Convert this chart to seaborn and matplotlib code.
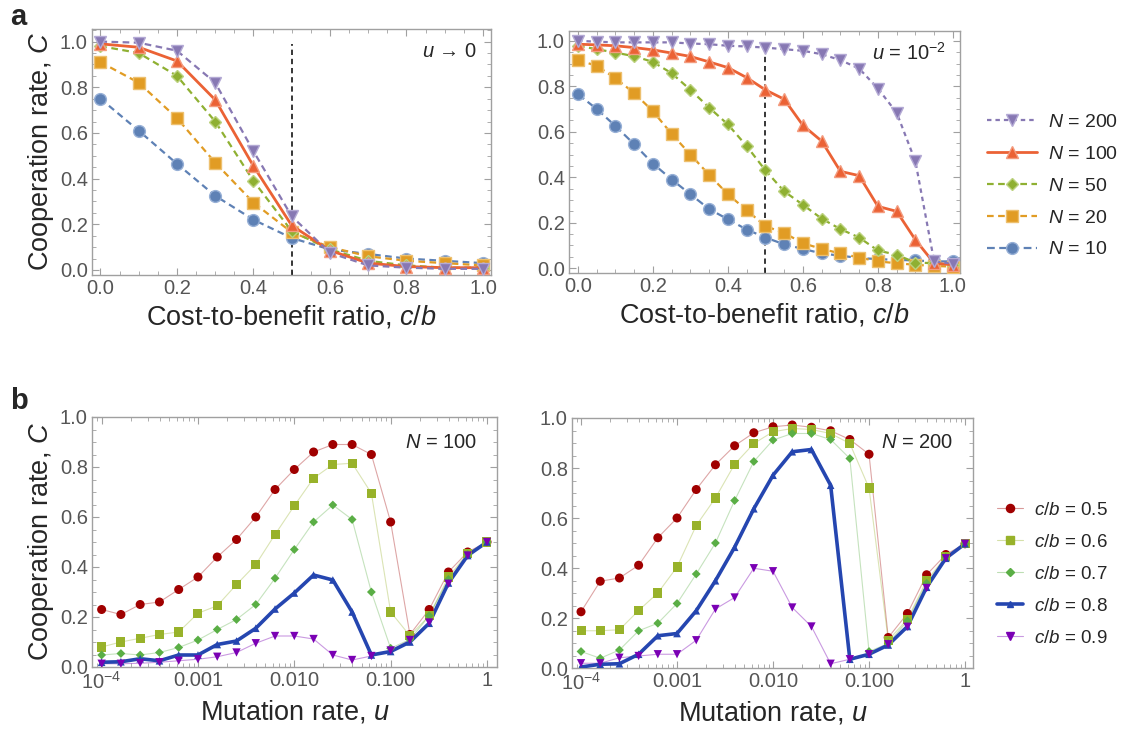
import numpy as np
import pandas as pd
import matplotlib
matplotlib.use("Agg")
import matplotlib.pyplot as plt
from matplotlib.ticker import MultipleLocator, FixedLocator, NullFormatter, LogLocator
from matplotlib.lines import Line2D
from matplotlib.colors import to_rgba
import seaborn as sns

# ---------------- data ----------------
cb_coarse = [0.0, 0.1, 0.2, 0.3, 0.4, 0.5, 0.6, 0.7, 0.8, 0.9, 1.0]
cb_fine = [0.0, 0.05, 0.1, 0.15, 0.2, 0.25, 0.3, 0.35, 0.4, 0.45, 0.5,
           0.55, 0.6, 0.65, 0.7, 0.75, 0.8, 0.85, 0.9, 0.95, 1.0]

# panel a, u -> 0
a0_N10 = [0.75, 0.61, 0.465, 0.325, 0.22, 0.14, 0.09, 0.07, 0.05, 0.04, 0.03]
a0_N20 = [0.91, 0.82, 0.665, 0.47, 0.295, 0.165, 0.10, 0.06, 0.04, 0.03, 0.02]
a0_N50 = [0.98, 0.95, 0.85, 0.65, 0.39, 0.17, 0.09, 0.04, 0.02, 0.01, 0.01]
a0_N100 = [0.99, 0.975, 0.915, 0.745, 0.455, 0.195, 0.085, 0.03, 0.015, 0.01, 0.01]
a0_N200 = [1.0, 0.995, 0.96, 0.82, 0.52, 0.235, 0.075, 0.02, 0.01, 0.005, 0.005]

# panel a, u = 1e-2
a2_N10 = [0.765, 0.70, 0.625, 0.545, 0.46, 0.39, 0.325, 0.26, 0.215, 0.17, 0.135,
          0.105, 0.085, 0.065, 0.055, 0.045, 0.04, 0.037, 0.034, 0.03, 0.03]
a2_N20 = [0.915, 0.89, 0.835, 0.77, 0.69, 0.59, 0.50, 0.41, 0.325, 0.255, 0.185,
          0.155, 0.11, 0.085, 0.065, 0.047, 0.03, 0.022, 0.015, 0.01, 0.007]
a2_N50 = [0.978, 0.963, 0.948, 0.932, 0.907, 0.857, 0.784, 0.706, 0.632, 0.537, 0.43,
          0.338, 0.279, 0.218, 0.172, 0.135, 0.078, 0.059, 0.025, 0.022, 0.015]
a2_N100 = [0.985, 0.982, 0.978, 0.97, 0.96, 0.946, 0.931, 0.907, 0.882, 0.838, 0.784,
           0.743, 0.628, 0.559, 0.426, 0.407, 0.272, 0.25, 0.125, 0.022, 0.015]
a2_N200 = [1.0, 0.996, 0.993, 0.993, 0.993, 0.993, 0.988, 0.985, 0.978, 0.975, 0.97,
           0.963, 0.956, 0.941, 0.915, 0.878, 0.79, 0.684, 0.47, 0.03, 0.02]

# panel b, mutation rates
u_vals = [1e-4, 1.585e-4, 2.512e-4, 3.981e-4, 6.310e-4, 1e-3, 1.585e-3, 2.512e-3,
          3.981e-3, 6.310e-3, 1e-2, 1.585e-2, 2.512e-2, 3.981e-2, 6.310e-2, 1e-1,
          1.585e-1, 2.512e-1, 3.981e-1, 6.310e-1, 1.0]

b100_05 = [0.23, 0.21, 0.25, 0.26, 0.31, 0.36, 0.44, 0.51, 0.60, 0.71, 0.79,
           0.86, 0.89, 0.89, 0.85, 0.58, 0.13, 0.23, 0.38, 0.46, 0.50]
b100_06 = [0.08, 0.10, 0.115, 0.13, 0.14, 0.215, 0.245, 0.33, 0.41, 0.53, 0.645,
           0.755, 0.81, 0.815, 0.695, 0.22, 0.125, 0.205, 0.36, 0.455, 0.50]
b100_07 = [0.048, 0.054, 0.048, 0.058, 0.078, 0.108, 0.15, 0.19, 0.25, 0.355, 0.47,
           0.58, 0.648, 0.59, 0.30, 0.075, 0.11, 0.205, 0.35, 0.45, 0.50]
b100_08 = [0.019, 0.021, 0.033, 0.025, 0.048, 0.048, 0.09, 0.104, 0.155, 0.232, 0.296,
           0.368, 0.348, 0.22, 0.048, 0.062, 0.10, 0.175, 0.336, 0.446, 0.50]
b100_09 = [0.013, 0.013, 0.015, 0.019, 0.025, 0.031, 0.041, 0.058, 0.095, 0.124, 0.124,
           0.112, 0.048, 0.028, 0.044, 0.066, 0.108, 0.178, 0.333, 0.446, 0.50]

b200_05 = [0.225, 0.347, 0.36, 0.411, 0.521, 0.60, 0.714, 0.813, 0.889, 0.941, 0.965,
           0.972, 0.963, 0.949, 0.914, 0.855, 0.122, 0.218, 0.373, 0.454, 0.497]
b200_06 = [0.149, 0.149, 0.153, 0.23, 0.30, 0.404, 0.57, 0.68, 0.815, 0.898, 0.945,
           0.958, 0.954, 0.938, 0.898, 0.72, 0.111, 0.195, 0.349, 0.446, 0.497]
b200_07 = [0.066, 0.039, 0.072, 0.149, 0.179, 0.258, 0.376, 0.50, 0.67, 0.826, 0.912,
           0.938, 0.938, 0.914, 0.838, 0.066, 0.098, 0.189, 0.339, 0.443, 0.497]
b200_08 = [0.004, 0.015, 0.017, 0.055, 0.129, 0.138, 0.229, 0.349, 0.483, 0.637, 0.771,
           0.865, 0.874, 0.731, 0.035, 0.055, 0.092, 0.166, 0.323, 0.439, 0.497]
b200_09 = [0.019, 0.019, 0.041, 0.048, 0.055, 0.055, 0.111, 0.236, 0.282, 0.399, 0.387,
           0.242, 0.166, 0.017, 0.035, 0.055, 0.095, 0.165, 0.32, 0.439, 0.497]

N_labels = ["$N$ = 200", "$N$ = 100", "$N$ = 50", "$N$ = 20", "$N$ = 10"]
cb_labels = ["$c/b$ = 0.5", "$c/b$ = 0.6", "$c/b$ = 0.7", "$c/b$ = 0.8", "$c/b$ = 0.9"]
u_tick_vals = [1e-4, 1e-3, 1e-2, 1e-1, 1.0]
u_tick_labels = ["$10^{-4}$", "0.001", "0.010", "0.100", "1"]
threshold = 0.5

# ---------------- style ----------------
sns.set_theme(style="ticks")
plt.rcParams["font.family"] = ["Liberation Sans", "DejaVu Sans"]
plt.rcParams["mathtext.fontset"] = "custom"
plt.rcParams["mathtext.rm"] = "Liberation Sans"
plt.rcParams["mathtext.it"] = "Liberation Sans:italic"
plt.rcParams["mathtext.bf"] = "Liberation Sans:bold"

N_colors = ["#8778B3", "#EB6235", "#8FB032", "#E19C24", "#5E81B5"]
N_edge = ["#B3A9D4", "#F39B7E", "#BCD27F", "#EDC06F", "#97B0D6"]
N_markers = ["v", "^", "D", "s", "o"]
N_msize = [8.5, 8.5, 6.5, 9, 8.5]

cb_colors = ["#A00000", "#98B22A", "#5AAE45", "#2546B0", "#7A00B4"]
cb_line_alpha = [0.35, 0.35, 0.35, 1.0, 0.4]
cb_lw = [0.8, 0.8, 0.8, 2.6, 0.8]
cb_markers = ["o", "s", "D", "^", "v"]
cb_msize = [6.5, 6.5, 4.5, 5.5, 6]

GRAY = "#a0a0a0"
TICKC = "#555555"
TICK_FS = 14.5
LABEL_FS = 19.5

fig = plt.figure(figsize=(11.25, 7.4), dpi=100)
W, H = 1125, 740


def add_ax(l, t, r, b):
    return fig.add_axes([l / W, 1 - b / H, (r - l) / W, (b - t) / H])


ax_a0 = add_ax(92, 29, 491, 275)
ax_a2 = add_ax(569, 31, 960, 273)
ax_b100 = add_ax(92, 417, 497, 667)
ax_b200 = add_ax(572, 418, 973, 668)


def style_axes(ax):
    for s in ax.spines.values():
        s.set_color(GRAY)
        s.set_linewidth(1.0)
    ax.tick_params(which="both", direction="in", top=True, right=True,
                   color=GRAY, labelcolor=TICKC, labelsize=TICK_FS)
    ax.tick_params(which="major", length=5, width=0.8, pad=3)
    ax.tick_params(which="minor", length=3, width=0.6)


def plot_N(ax, x, series, dash_list):
    for i, y in enumerate(series):
        df = pd.DataFrame({"x": x, "y": y})
        sns.lineplot(data=df, x="x", y="y", ax=ax, color=N_colors[i],
                     marker=N_markers[i], markersize=N_msize[i],
                     markeredgecolor=N_edge[i], markeredgewidth=1.0,
                     linewidth=2.0 if i == 1 else 1.6,
                     linestyle=dash_list[i], label=N_labels[i], legend=False,
                     zorder=3 + (5 - i) * 0.1)


dash_a0 = [(0, (3, 2)), "-", (0, (3, 2)), (0, (3, 2)), (0, (3, 2))]
dash_a2 = [(0, (2, 1.8)), "-", (0, (3, 2)), (0, (3, 2)), (0, (3.5, 2))]

plot_N(ax_a0, cb_coarse, [a0_N200, a0_N100, a0_N50, a0_N20, a0_N10], dash_a0)
plot_N(ax_a2, cb_fine, [a2_N200, a2_N100, a2_N50, a2_N20, a2_N10], dash_a2)

for ax, lim in [(ax_a0, (-0.022, 1.055, -0.022, 1.021)), (ax_a2, (-0.021, 1.043, -0.024, 1.019))]:
    ylo, yhi, xlo, xhi = lim
    ax.set_ylim(ylo, yhi)
    ax.set_xlim(xlo, xhi)
    ax.axvline(threshold, ymin=0, ymax=(0.99 - ylo) / (yhi - ylo),
               color="black", lw=1.1, ls=(0, (3.5, 2.5)), zorder=2)
    ax.xaxis.set_major_locator(MultipleLocator(0.2))
    ax.xaxis.set_minor_locator(MultipleLocator(0.05))
    ax.yaxis.set_major_locator(MultipleLocator(0.2))
    ax.yaxis.set_minor_locator(MultipleLocator(0.05))
    ax.xaxis.set_major_formatter(matplotlib.ticker.FormatStrFormatter("%.1f"))
    ax.yaxis.set_major_formatter(matplotlib.ticker.FormatStrFormatter("%.1f"))
    style_axes(ax)
    ax.set_xlabel("Cost-to-benefit ratio, $c/b$", fontsize=LABEL_FS, labelpad=4)
    ax.set_ylabel("")

ax_a0.set_ylabel("Cooperation rate, $C$", fontsize=LABEL_FS, labelpad=3)
ax_a0.text(0.965, 0.91, "$u$ → 0", transform=ax_a0.transAxes, ha="right", va="center", fontsize=14.5)
ax_a2.text(0.965, 0.91, "$u$ = 10$^{-2}$", transform=ax_a2.transAxes, ha="right", va="center", fontsize=14.5)


def plot_cb(ax, series):
    for i, y in enumerate(series):
        df = pd.DataFrame({"x": u_vals, "y": y})
        sns.lineplot(data=df, x="x", y="y", ax=ax, color=cb_colors[i],
                     linewidth=cb_lw[i], alpha=cb_line_alpha[i], legend=False,
                     zorder=2 + (1 if i == 3 else 0))
        sns.scatterplot(data=df, x="x", y="y", ax=ax, color=cb_colors[i],
                        marker=cb_markers[i], s=cb_msize[i] ** 2,
                        edgecolor="none", legend=False, zorder=4 + 0.1 * i)


plot_cb(ax_b100, [b100_05, b100_06, b100_07, b100_08, b100_09])
plot_cb(ax_b200, [b200_05, b200_06, b200_07, b200_08, b200_09])

for ax, xl in [(ax_b100, (10 ** -4.1, 10 ** 0.104)), (ax_b200, (10 ** -4.094, 10 ** 0.083))]:
    ax.set_xscale("log")
    ax.set_xlim(*xl)
    ax.set_ylim(0, 1.0)
    ax.xaxis.set_major_locator(FixedLocator(u_tick_vals))
    ax.set_xticklabels(u_tick_labels)
    ax.xaxis.set_minor_locator(LogLocator(base=10, subs=np.arange(2, 10), numticks=20))
    ax.xaxis.set_minor_formatter(NullFormatter())
    ax.yaxis.set_major_locator(MultipleLocator(0.2))
    ax.yaxis.set_minor_locator(MultipleLocator(0.05))
    ax.yaxis.set_major_formatter(matplotlib.ticker.FormatStrFormatter("%.1f"))
    style_axes(ax)
    ax.set_xlabel("Mutation rate, $u$", fontsize=LABEL_FS, labelpad=4)
    ax.set_ylabel("")

ax_b100.set_ylabel("Cooperation rate, $C$", fontsize=LABEL_FS, labelpad=3)
ax_b100.text(0.95, 0.90, "$N$ = 100", transform=ax_b100.transAxes, ha="right", va="center", fontsize=14.5)
ax_b200.text(0.95, 0.90, "$N$ = 200", transform=ax_b200.transAxes, ha="right", va="center", fontsize=14.5)

# legends
hN, lN = ax_a2.get_legend_handles_labels()
leg1 = fig.legend(hN, lN, loc="upper left", bbox_to_anchor=(969 / W, 1 - 96 / H),
                  frameon=False, fontsize=14, handlelength=2.6, handletextpad=0.57,
                  labelspacing=0.73)

hcb = []
for i in range(5):
    line_rgba = to_rgba(cb_colors[i], 1.0 if i == 3 else 0.4)
    hcb.append(Line2D([], [], color=line_rgba, lw=cb_lw[i],
                      marker=cb_markers[i], markersize=cb_msize[i] * 0.9,
                      markerfacecolor=cb_colors[i], markeredgecolor=cb_colors[i]))
leg2 = fig.legend(hcb, cb_labels, loc="upper left", bbox_to_anchor=(980 / W, 1 - 485 / H),
                  frameon=False, fontsize=13.5, handlelength=1.4, handletextpad=0.59,
                  labelspacing=0.79)

fig.text(10 / W, 1 - 17 / H, "a", fontsize=21, fontweight="bold", va="center", ha="left")
fig.text(10 / W, 1 - 401 / H, "b", fontsize=21, fontweight="bold", va="center", ha="left")

fig.savefig("out.png", dpi=100)
